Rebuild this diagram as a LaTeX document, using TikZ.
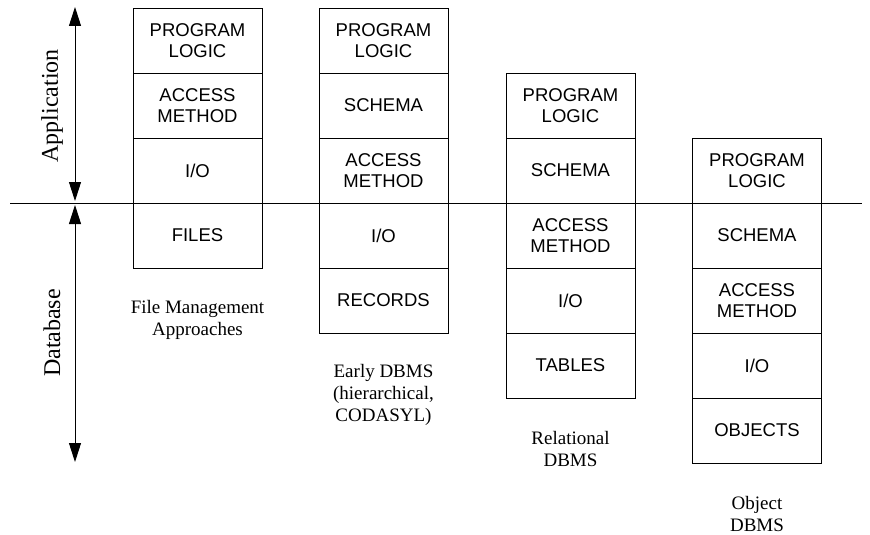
\documentclass[tikz,border=0pt]{standalone}
\usepackage{fontspec}
\setmainfont{Liberation Serif}
\newfontfamily\boxfont{Liberation Sans}
\usetikzlibrary{arrows.meta}
\begin{document}
\begin{tikzpicture}[x=1pt,y=-1pt,
  layer/.style={draw,line width=0.9pt,minimum width=129pt,minimum height=65pt,inner sep=0pt,
    align=center,font=\boxfont\fontsize{18.5}{21.7}\selectfont},
  caption/.style={align=center,font=\fontsize{19}{22}\selectfont,inner sep=0pt},
  axislabel/.style={rotate=90,font=\fontsize{24}{28}\selectfont,inner sep=0pt},
  axis/.style={line width=0.9pt,{Triangle[length=19pt,width=12pt]}-{Triangle[length=19pt,width=12pt]}}]
\useasboundingbox (0,0) rectangle (870,535);
% divider
\coordinate (dl) at (10,203);
\coordinate (dr) at (862,203);
\draw[line width=0.9pt] (dl) -- (dr);
% axis arrows
\coordinate (a1) at (75,7);
\coordinate (a2) at (75,201);
\coordinate (b1) at (75,205);
\coordinate (b2) at (75,462);
\draw[axis] (a1) -- (a2);
\draw[axis] (b1) -- (b2);
\node[axislabel] (app) at (52,106) {Application};
\node[axislabel] (db) at (52,333) {Database};
% column 1
\node[layer] (c1a) at (197.5,40.5) {PROGRAM\\LOGIC};
\node[layer] (c1b) at (197.5,105.5) {ACCESS\\METHOD};
\node[layer] (c1c) at (197.5,170.5) {I/O};
\node[layer] (c1d) at (197.5,235.5) {FILES};
\node[caption] (l1) at (197.5,320) {File Management\\Approaches};
% column 2
\node[layer] (c2a) at (383.5,40.5) {PROGRAM\\LOGIC};
\node[layer] (c2b) at (383.5,105.5) {SCHEMA};
\node[layer] (c2c) at (383.5,170.5) {ACCESS\\METHOD};
\node[layer] (c2d) at (383.5,235.5) {I/O};
\node[layer] (c2e) at (383.5,300.5) {RECORDS};
\node[caption] (l2) at (383.5,395) {Early DBMS\\(hierarchical,\\CODASYL)};
% column 3
\node[layer] (c3a) at (570.5,105.5) {PROGRAM\\LOGIC};
\node[layer] (c3b) at (570.5,170.5) {SCHEMA};
\node[layer] (c3c) at (570.5,235.5) {ACCESS\\METHOD};
\node[layer] (c3d) at (570.5,300.5) {I/O};
\node[layer] (c3e) at (570.5,365.5) {TABLES};
\node[caption] (l3) at (570.5,449) {Relational\\DBMS};
% column 4
\node[layer] (c4a) at (757,170.5) {PROGRAM\\LOGIC};
\node[layer] (c4b) at (757,235.5) {SCHEMA};
\node[layer] (c4c) at (757,300.5) {ACCESS\\METHOD};
\node[layer] (c4d) at (757,365.5) {I/O};
\node[layer] (c4e) at (757,430.5) {OBJECTS};
\node[caption] (l4) at (757,514) {Object\\DBMS};
\end{tikzpicture}
\end{document}
